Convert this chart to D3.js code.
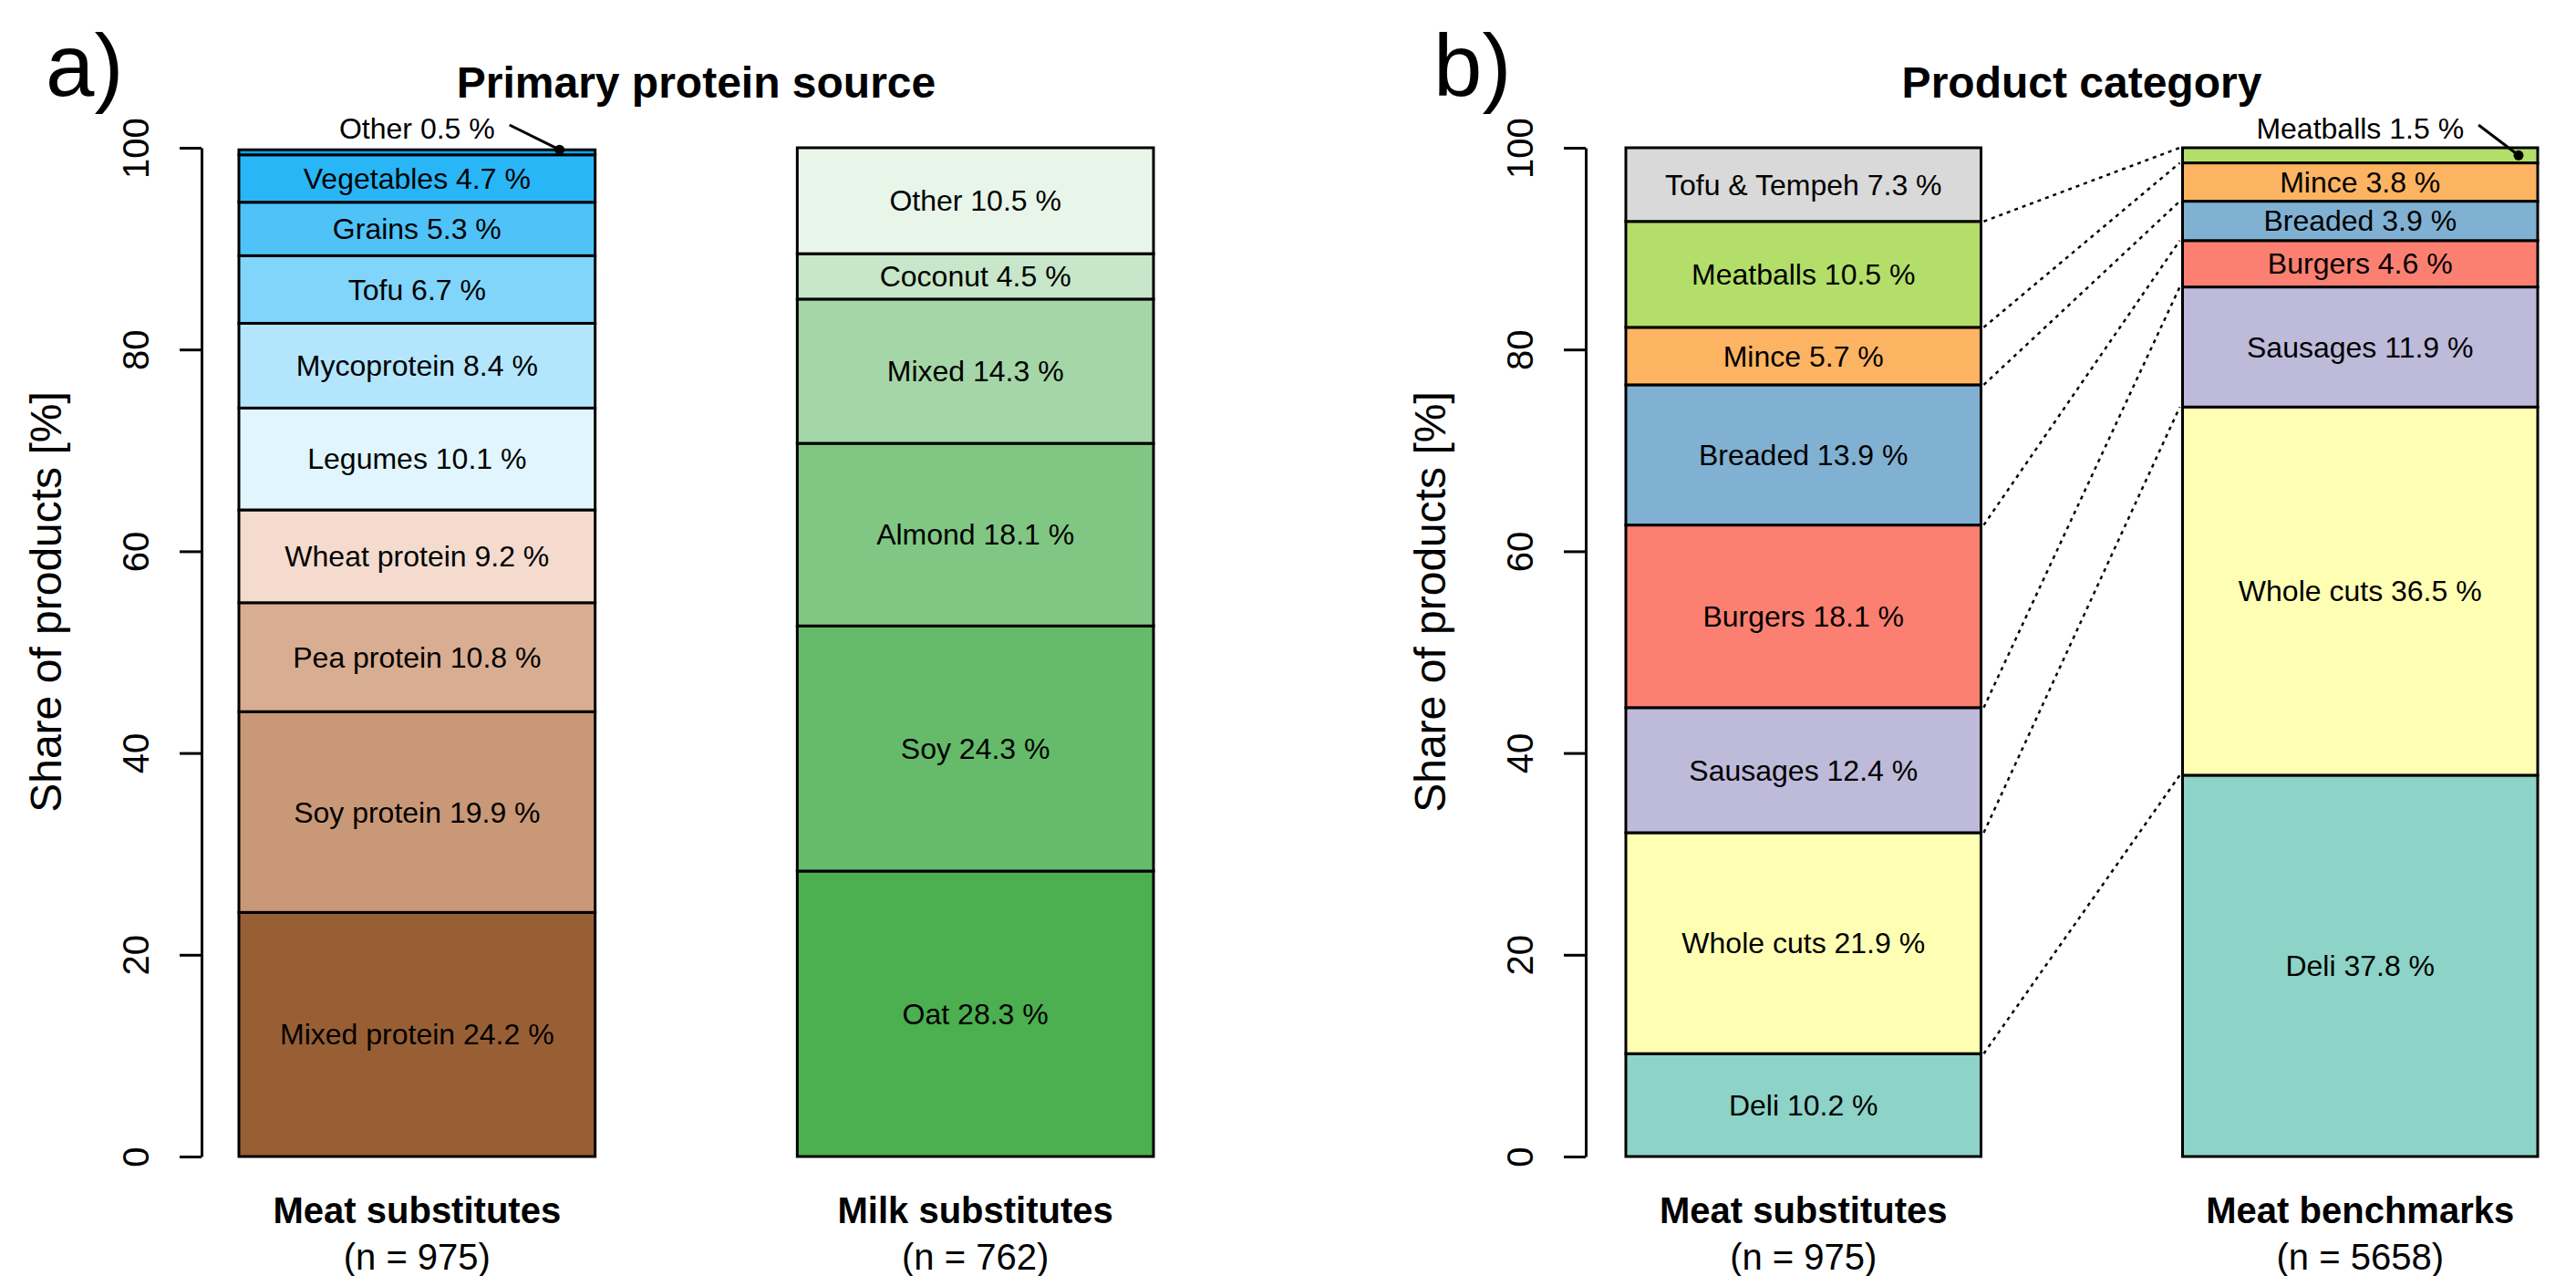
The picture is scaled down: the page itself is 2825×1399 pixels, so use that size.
<!DOCTYPE html>
<html>
<head>
<meta charset="utf-8">
<script src="https://cdn.jsdelivr.net/npm/d3@7"></script>
<style>
  body { margin: 0; background: #fff; }
  svg text { font-family: "Liberation Sans", Arial, sans-serif; fill: #000; }
</style>
</head>
<body>
<div id="chart"></div>
<script>
// ---- data ----
// panel a: primary protein source (stacked bottom -> top)
var proteinCats = ["Mixed protein", "Soy protein", "Pea protein", "Wheat protein", "Legumes",
                   "Mycoprotein", "Tofu", "Grains", "Vegetables", "Other"];
var proteinVals = [24.2, 19.9, 10.8, 9.2, 10.1, 8.4, 6.7, 5.3, 4.7, 0.5];
var proteinCols = ["#985F35", "#C99877", "#D8AD92", "#F4DBCE", "#E1F5FE",
                   "#B3E5FC", "#81D4FA", "#4FC3F7", "#29B6F6", "#03A9F4"];

var milkCats = ["Oat", "Soy", "Almond", "Mixed", "Coconut", "Other"];
var milkVals = [28.3, 24.3, 18.1, 14.3, 4.5, 10.5];
var milkCols = ["#4CAF50", "#66BB6A", "#81C784", "#A5D6A7", "#C8E6C9", "#E8F5E9"];

// panel b: product category
var productCats = ["Deli", "Whole cuts", "Sausages", "Burgers", "Breaded", "Mince", "Meatballs", "Tofu & Tempeh"];
var productCols = ["#8DD3C7", "#FFFFB3", "#BEBADA", "#FB8072", "#80B1D3", "#FDB462", "#B3DE69", "#D9D9D9"];
var substituteVals = [10.2, 21.9, 12.4, 18.1, 13.9, 5.7, 10.5, 7.3];
var benchmarkVals  = [37.8, 36.5, 11.9, 4.6, 3.9, 3.8, 1.5, 0];

var barNamesA = ["Meat substitutes", "Milk substitutes"];
var barNsA = [975, 762];
var barNamesB = ["Meat substitutes", "Meat benchmarks"];
var barNsB = [975, 5658];

var yTicks = [0, 20, 40, 60, 80, 100];

/// main
var width = 2825, height = 1399;
var svg = d3.select("#chart").append("svg")
    .attr("width", width)
    .attr("height", height);

var y = d3.scaleLinear().domain([0, 100]).range([1268, 162]);

// stack helper: turns values into segments with y0/y1
function stackSegs(cats, vals, cols) {
  var acc = 0, out = [];
  for (var i = 0; i < cats.length; i++) {
    if (vals[i] <= 0) continue;
    out.push({cat: cats[i], value: vals[i], col: cols[i], y0: acc, y1: acc + vals[i]});
    acc += vals[i];
  }
  return out;
}

function drawPanel(opts) {
  var g = svg.append("g");

  var x = d3.scaleBand()
      .domain(opts.names)
      .range(opts.range)
      .paddingInner(0.362)
      .paddingOuter(0);

  // axis
  var axis = g.append("g")
      .attr("transform", "translate(" + opts.axisX + ",0)")
      .call(d3.axisLeft(y).tickValues(yTicks).tickSize(24).tickSizeOuter(0));
  axis.selectAll("path, line").attr("stroke", "#000").attr("stroke-width", 3);
  axis.selectAll("text")
      .attr("x", 0).attr("y", -58).attr("dy", 0)
      .attr("text-anchor", "middle")
      .attr("transform", "rotate(-90)")
      .style("font-size", "40px")
      .style("font-family", "Liberation Sans, Arial, sans-serif")
      .attr("fill", "#000");

  g.append("text")
      .attr("transform", "translate(" + (opts.axisX - 154) + ",660) rotate(-90)")
      .attr("text-anchor", "middle")
      .style("font-size", "48px")
      .text("Share of products [%]");

  // title + panel letter
  var mid = (opts.range[0] + opts.range[1]) / 2;
  g.append("text")
      .attr("x", mid).attr("y", 107)
      .attr("text-anchor", "middle")
      .style("font-size", "48px").style("font-weight", "bold")
      .text(opts.title);
  g.append("text")
      .attr("x", opts.letterX).attr("y", 105)
      .style("font-size", "96px")
      .text(opts.letter);

  opts.stacks.forEach(function(st, bi) {
    var name = opts.names[bi];
    var segs = stackSegs(st.cats, st.vals, st.cols);
    var bx = x(name), bw = x.bandwidth();

    g.append("g").selectAll("rect")
      .data(segs)
      .enter().append("rect")
        .attr("x", bx)
        .attr("width", bw)
        .attr("y", function(d) { return y(d.y1); })
        .attr("height", function(d) { return y(d.y0) - y(d.y1); })
        .attr("fill", function(d) { return d.col; })
        .attr("stroke", "#000")
        .attr("stroke-width", 3);

    // labels inside segments (small ones get a callout)
    g.append("g").selectAll("text")
      .data(segs.filter(function(d) { return d.value >= 2; }))
      .enter().append("text")
        .attr("x", bx + bw / 2)
        .attr("y", function(d) { return y((d.y0 + d.y1) / 2); })
        .attr("dy", "0.35em")
        .attr("text-anchor", "middle")
        .style("font-size", "32px")
        .text(function(d) { return d.cat + " " + d.value.toFixed(1) + " %"; });

    segs.filter(function(d) { return d.value < 2; }).forEach(function(d) {
      var lbl = g.append("text")
          .attr("x", bx + bw / 2)
          .attr("y", y(100) - 10)
          .attr("text-anchor", "middle")
          .style("font-size", "32px")
          .text(d.cat + " " + d.value.toFixed(1) + " %");
      var bb = lbl.node().getBBox();
      var dotX = bx + st.dotFrac * bw, dotY = y(st.dotAt(d));
      g.append("line")
          .attr("x1", bb.x + bb.width + 16).attr("y1", y(100) - 25)
          .attr("x2", dotX).attr("y2", dotY)
          .attr("stroke", "#000").attr("stroke-width", 3);
      g.append("circle")
          .attr("cx", dotX).attr("cy", dotY).attr("r", 5.5)
          .attr("fill", "#000");
    });

    // category names under the bars
    g.append("text")
        .attr("x", bx + bw / 2).attr("y", 1341)
        .attr("text-anchor", "middle")
        .style("font-size", "40px").style("font-weight", "bold")
        .text(name);
    g.append("text")
        .attr("x", bx + bw / 2).attr("y", 1392)
        .attr("text-anchor", "middle")
        .style("font-size", "40px")
        .text("(n = " + opts.ns[bi] + ")");
  });

  return x;
}

// panel a
drawPanel({
  names: barNamesA, ns: barNsA, range: [262, 1265], axisX: 221,
  title: "Primary protein source", letter: "a)", letterX: 50,
  stacks: [
    {cats: proteinCats, vals: proteinVals, cols: proteinCols, dotFrac: 0.9,
     dotAt: function(d) { return d.y1; }},
    {cats: milkCats, vals: milkVals, cols: milkCols}
  ]
});

// panel b
var xb = drawPanel({
  names: barNamesB, ns: barNsB, range: [1783, 2783], axisX: 1739,
  title: "Product category", letter: "b)", letterX: 1572,
  stacks: [
    {cats: productCats, vals: substituteVals, cols: productCols},
    {cats: productCats, vals: benchmarkVals, cols: productCols, dotFrac: 0.946,
     dotAt: function(d) { return (d.y0 + d.y1) / 2; }}
  ]
});

// dotted connectors between matching category tops
var subsSegs = stackSegs(productCats, substituteVals, productCols);
var benchSegs = stackSegs(productCats, benchmarkVals, productCols);
var links = benchSegs.map(function(b) {
  var s = subsSegs.filter(function(d) { return d.cat === b.cat; })[0];
  return {from: s.y1, to: b.y1};
});
var leftEdge = xb(barNamesB[0]) + xb.bandwidth(), rightEdge = xb(barNamesB[1]);
svg.append("g").selectAll("line")
  .data(links)
  .enter().append("line")
    .attr("x1", leftEdge + 3).attr("y1", function(d) { return y(d.from); })
    .attr("x2", rightEdge - 3).attr("y2", function(d) { return y(d.to); })
    .attr("stroke", "#000")
    .attr("stroke-width", 2.5)
    .attr("stroke-dasharray", "4,5");
</script>
</body>
</html>
